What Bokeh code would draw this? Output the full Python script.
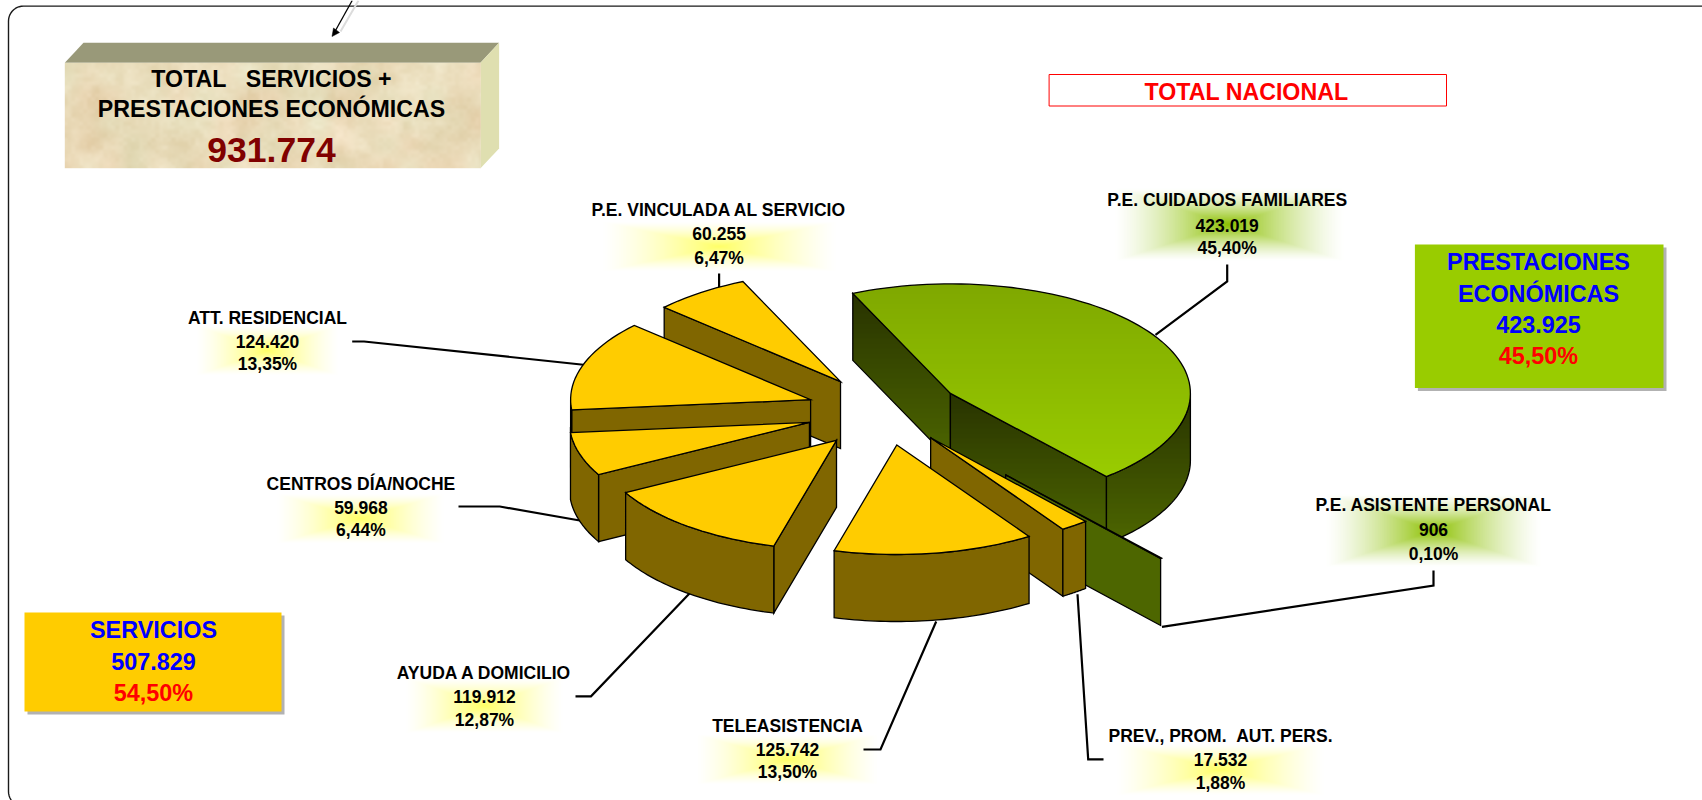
import math
import numpy as np
from bokeh.embed import file_html
from bokeh.resources import INLINE
from bokeh.plotting import figure
from bokeh.models import ColumnDataSource
from bokeh.core.properties import value

# ---------- data ----------
categories = ["P.E. CUIDADOS FAMILIARES", "P.E. ASISTENTE PERSONAL", "PREV., PROM.\u00a0\u00a0AUT. PERS.",
              "TELEASISTENCIA", "AYUDA A DOMICILIO", "CENTROS DÍA/NOCHE",
              "ATT. RESIDENCIAL", "P.E. VINCULADA AL SERVICIO"]
values = [423019, 906, 17532, 125742, 119912, 59968, 124420, 60255]
value_labels = ["423.019", "906", "17.532", "125.742", "119.912", "59.968", "124.420", "60.255"]
pct_labels = ["45,40%", "0,10%", "1,88%", "13,50%", "12,87%", "6,44%", "13,35%", "6,47%"]
explosions = [0.31, 0.76, 0.30, 0.31, 0.336, 0.34, 0.336, 0.336]
nudge_x = [0, 0, 0, -2.5, -1, 0, -0.5, 0]
total_label = "931.774"
servicios = ["SERVICIOS", "507.829", "54,50%"]
prestaciones = ["PRESTACIONES", "ECONÓMICAS", "423.925", "45,50%"]

W, H = 1702, 800
FONT = value("Liberation Sans")
Y = lambda v: H - v

p = figure(width=W, height=H, x_range=(0, W), y_range=(0, H), output_backend="svg",
           toolbar_location=None, min_border=0, outline_line_color=None,
           background_fill_color="white", border_fill_color="white",
           styles={"position": "absolute", "left": "0px", "top": "0px"})
p.axis.visible = False
p.grid.visible = False


def hex2rgb(c):
    return tuple(int(c[i:i + 2], 16) for i in (1, 3, 5))


def rgb2hex(r):
    return "#%02x%02x%02x" % tuple(int(round(v)) for v in r)


# ---------- frame ----------
fl, ft, fr, fb, rad = 8.0, 5.6, 1702.0, 806.0, 15.0
arc = np.radians(np.linspace(0, 90, 12))
fx = [fr] + list(fl + rad - rad * np.sin(arc)) + list(fl + rad - rad * np.cos(arc))
fy = [ft] + list(ft + rad - rad * np.cos(arc)) + list(fb - rad + rad * np.sin(arc))
p.line(fx, [Y(v) for v in fy], line_color="#1a1a1a", line_width=1.4)

# arrow at the top of the frame
p.line([358, 340], [Y(0), Y(31)], line_color="#dcdcdc", line_width=2)
p.line([351.7, 335], [Y(0), Y(30)], line_color="black", line_width=1.3)
p.patch([331.5, 333, 339], [Y(36), Y(27.5), Y(32)], fill_color="black", line_color="black", line_width=0.5)


# ---------- label glows ----------
def glow(cx, cy, hw, hh, color, peak, power):
    x0, y0 = int(cx - hw), int(cy - hh)
    nx, ny = int(2 * hw), int(2 * hh)
    xs = (np.arange(nx) + .5 - hw) / hw
    ys = (np.arange(ny) + .5 - hh) / hh
    uu, vv = np.meshgrid(xs, ys)
    t = np.maximum(np.abs(uu), np.abs(vv))
    a = np.clip(1 - t, 0, 1) ** power * peak
    r, g, b = hex2rgb(color)
    img = np.zeros((ny, nx), dtype=np.uint32)
    v = img.view(dtype=np.uint8).reshape((ny, nx, 4))
    v[:, :, 0] = r; v[:, :, 1] = g; v[:, :, 2] = b
    v[:, :, 3] = (a * 255).astype(np.uint8)
    p.image_rgba(image=[img[::-1]], x=x0, y=Y(y0 + ny), dw=nx, dh=ny)


YEL, GRN = "#FFFF66", "#8CC000"
glow(1229, 224, 117, 37, GRN, 1.0, 1.4)
glow(1433, 530, 110, 37, GRN, 1.0, 1.4)
glow(1220, 769, 106, 26, YEL, 1.0, 1.35)
glow(787, 759, 92, 25, YEL, 1.0, 1.35)
glow(484, 705, 80, 28, YEL, 1.0, 1.35)
glow(360, 518, 85, 25, YEL, 1.0, 1.35)
glow(267, 350, 72, 25, YEL, 1.0, 1.35)
glow(719, 246, 119, 25, YEL, 1.0, 1.35)

# ---------- callout lines ----------
callouts = [
    [(1226.7, 264), (1226.7, 281), (1155, 334.3)],
    [(1433, 570), (1433, 585), (1161.5, 626.3)],
    [(1103, 758.8), (1087.7, 758.8), (1077, 593.8)],
    [(863, 749), (880, 749), (935.7, 621)],
    [(575, 695.8), (590.5, 695.8), (690.4, 591.6)],
    [(458, 506), (499.3, 506), (585, 521)],
    [(351.7, 341), (363.6, 341), (590, 365)],
    [(718.6, 273), (718.6, 288.7), (690, 297)],
]
for c in callouts:
    p.line([a[0] for a in c], [Y(a[1]) for a in c], line_color="black", line_width=2.2,
           line_join="miter")

# ---------- exploded 3-D pie ----------
CX, CY, RA, RB, DEPTH, START = 887.0, 411.0, 240.0, 109.5, 67.0, 114.0
total = sum(values)
TOP_Y, WALL_Y, WALL_G = "#FFCC00", "#806600", ("#283300", "#4D6600")
TOP_G = ("#7FA800", "#99CC00")
WALL_FLAT_G = "#4D6600"
draw_order = [7, 0, 6, 1, 2, 5, 3, 4]

polys = dict(xs=[], ys=[], fill=[], line=[], falpha=[], lalpha=[])


def add(poly, fill=None, line=False):
    polys["xs"].append([a[0] for a in poly])
    polys["ys"].append([Y(a[1]) for a in poly])
    polys["fill"].append(fill or "#000000")
    polys["line"].append("#000000")
    polys["falpha"].append(1.0 if fill else 0.0)
    polys["lalpha"].append(1.0 if line else 0.0)


def clip(poly, y, keep_below):
    out = []
    n = len(poly)
    inside = (lambda q: q[1] >= y) if keep_below else (lambda q: q[1] <= y)
    for i in range(n):
        a, b = poly[i], poly[(i + 1) % n]
        ia, ib = inside(a), inside(b)
        if ia:
            out.append(a)
        if ia != ib:
            f = (y - a[1]) / (b[1] - a[1])
            out.append((a[0] + f * (b[0] - a[0]), y))
    return out


def fill_poly(poly, fill):
    if isinstance(fill, str):
        add(poly, fill)
        add(poly, None, True)
        return
    y0 = min(q[1] for q in poly)
    y1 = max(q[1] for q in poly)
    c0, c1 = hex2rgb(fill[0]), hex2rgb(fill[1])
    step = 5.0
    y = y0
    while y < y1:
        f = (y + step / 2 - y0) / (y1 - y0)
        col = rgb2hex([c0[i] + (c1[i] - c0[i]) * min(f, 1) for i in range(3)])
        part = clip(clip(poly, y, True), y + step + 1, False)
        if len(part) >= 3:
            add(part, col)
        y += step
    add(poly, None, True)


def pt(ax, ay, t):
    r = math.radians(t)
    return (ax + RA * math.cos(r), ay - RB * math.sin(r))


# angles run clockwise from START
angles = []
t = START
for v in values:
    span = 360.0 * v / total
    angles.append((t, t - span))
    t -= span

for i in draw_order:
    t0, t1 = angles[i]
    m = (t0 + t1) / 2
    ax, ay = pt(CX, CY, m)
    ax = CX + explosions[i] * (ax - CX) + nudge_x[i]
    ay = CY + explosions[i] * (ay - CY)
    green = i < 2
    wall = WALL_G if i == 0 else (WALL_FLAT_G if i == 1 else WALL_Y)
    top = TOP_G if green else TOP_Y
    if math.cos(math.radians(t0)) < 0:
        q = pt(ax, ay, t0)
        fill_poly([(ax, ay), q, (q[0], q[1] + DEPTH), (ax, ay + DEPTH)], wall)
    if math.cos(math.radians(t1)) > 0:
        q = pt(ax, ay, t1)
        fill_poly([(ax, ay), q, (q[0], q[1] + DEPTH), (ax, ay + DEPTH)], wall)
    lo, hi = max(t1, -180.0), min(t0, 0.0)
    if hi - lo > 1.0:
        ts = np.linspace(hi, lo, 40)
        up = [pt(ax, ay, a) for a in ts]
        fill_poly(up + [(a[0], a[1] + DEPTH) for a in up[::-1]], wall)
    ts = np.linspace(t0, t1, max(3, int((t0 - t1) / 2)))
    fill_poly([(ax, ay)] + [pt(ax, ay, a) for a in ts], top)

src = ColumnDataSource(polys)
p.patches("xs", "ys", source=src, fill_color="fill", fill_alpha="falpha",
          line_color="line", line_alpha="lalpha", line_width=1.3, line_join="miter")


# ---------- boxes ----------
def rect(x0, y0, x1, y1, fill, line=None, lw=1.0):
    p.quad(left=x0, right=x1, top=Y(y0), bottom=Y(y1), fill_color=fill,
           line_color=line, line_width=lw)


def mottled(shape, cell, seed):
    # soft parchment mottling for the block's face (decoration only)
    rng = np.random.default_rng(seed)
    gh, gw = shape[0] // cell + 2, shape[1] // cell + 2
    g = rng.random((gh, gw))
    yy = np.arange(shape[0]) / cell
    xx = np.arange(shape[1]) / cell
    yi, xi = yy.astype(int), xx.astype(int)
    fy_, fx_ = (yy - yi)[:, None], (xx - xi)[None, :]
    fy_ = fy_ * fy_ * (3 - 2 * fy_)
    fx_ = fx_ * fx_ * (3 - 2 * fx_)
    a = g[yi][:, xi]; b = g[yi][:, xi + 1]; c = g[yi + 1][:, xi]; d = g[yi + 1][:, xi + 1]
    return (a * (1 - fx_) + b * fx_) * (1 - fy_) + (c * (1 - fx_) + d * fx_) * fy_ - .5


p.patch([64.3, 83, 498.6, 480], [Y(62.3), Y(42.3), Y(42.3), Y(62.3)], fill_color="#999979", line_color=None)
p.patch([480, 498.6, 498.6, 480], [Y(62.3), Y(42.3), Y(148), Y(167.7)], fill_color="#DFDFB0", line_color=None)
shape = (105, 416)
n1 = mottled(shape, 31, 1) * 1.0 + mottled(shape, 11, 2) * .6 + mottled(shape, 4, 3) * .35
pink = mottled(shape, 23, 4)
bimg = np.zeros(shape, dtype=np.uint32)
bv = bimg.view(dtype=np.uint8).reshape(shape + (4,))
bv[:, :, 0] = np.clip(233 + 14 * n1 + 6 * pink, 0, 255)
bv[:, :, 1] = np.clip(220 + 18 * n1 - 8 * pink, 0, 255)
bv[:, :, 2] = np.clip(186 + 26 * n1 - 8 * pink, 0, 255)
bv[:, :, 3] = 255
p.image_rgba(image=[bimg], x=64.3, y=Y(167.7), dw=416, dh=105.4)

rect(1048.6, 74, 1446, 105.5, "white", "#FF0000", 1.0)
rect(1417.4, 247, 1666, 390.5, "#B2B2B2")
rect(1414.4, 244, 1663, 387.5, "#99CC00")
rect(27, 615, 284, 714, "#B2B2B2")
rect(24, 612, 281, 711, "#FFCC00")


def txt(x, y, s, size, color="black"):
    p.text(x=[x], y=[Y(y)], text=[s], text_font=FONT, text_font_style="bold",
           text_font_size=f"{size}px", text_color=color, text_align="center",
           text_baseline="middle")


txt(271, 78, "TOTAL\u00a0\u00a0\u00a0SERVICIOS +", 23.2)
txt(271, 108.5, "PRESTACIONES ECONÓMICAS", 23.2)
txt(271, 149, total_label, 35.5, "#800000")
txt(1246, 91, "TOTAL NACIONAL", 23.2, "#FF0000")

for s, y, c in zip(prestaciones, [261.6, 293, 323.5, 355], ["#0000FF"] * 3 + ["#FF0000"]):
    txt(1538, y, s, 23.4, c)
for s, y, c in zip(servicios, [629.6, 661, 692.6], ["#0000FF", "#0000FF", "#FF0000"]):
    txt(153, y, s, 23.4, c)

label_pos = [(1226.7, 199.7, 224.7, 247.5), (1433, 504.8, 528.6, 553.6), (1220, 735, 758.8, 782.7),
             (787, 725, 749, 771.8), (484, 672, 695.8, 719.7), (360.4, 483, 507, 529.7),
             (267, 317, 341, 363.6), (718.6, 209.5, 233.4, 257.3)]
for cat, vl, pc, lp in zip(categories, value_labels, pct_labels, label_pos):
    txt(lp[0], lp[1], cat, 17.5)
    txt(lp[0], lp[2], vl, 17.5)
    txt(lp[0], lp[3], pc, 17.5)

open("out.html", "w").write(file_html(p, INLINE))
